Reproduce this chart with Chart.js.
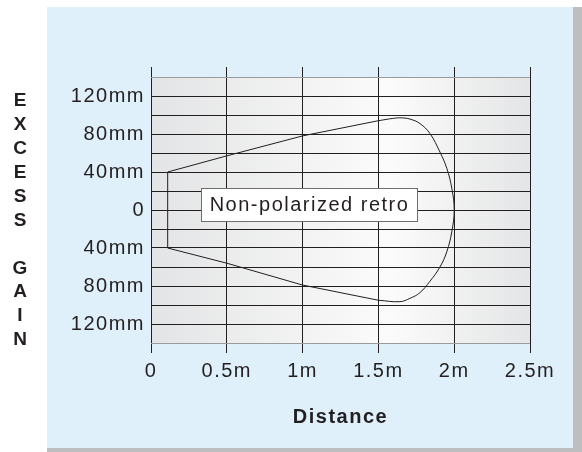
<!DOCTYPE html>
<html>
<head>
<meta charset="utf-8">
<script src="https://cdn.jsdelivr.net/npm/chart.js@4/dist/chart.umd.min.js"></script>
<style>
    html, body { margin: 0; padding: 0; background: #fff; }
</style>
</head>
<body>
<canvas id="myChart1" width="582" height="452"></canvas>
<script>
// Beam outline (distance in m, excess gain in mm)
// straight sides of the outline
const sideDistance = [1.5, 1.0, 0.5, 0.11, 0.11, 0.5, 1.0, 1.5];
const sideGain = [-95, -79, -56, -40, 40, 57, 78, 94];
// rounded far end
const capDistance = [1.5, 1.6, 1.654, 1.708, 1.774, 1.84, 1.906, 1.951, 1.984, 2.0,
                     1.984, 1.951, 1.906, 1.84, 1.774, 1.708, 1.642, 1.5];
const capGain = [94, 96.5, 97, 95.7, 91, 80.5, 61, 44, 23, 0,
                 -23, -44, -60, -75, -87, -93, -96.5, -95];

const xTicks = [0, 0.5, 1, 1.5, 2, 2.5];
const xTickLabels = ['0', '0.5m', '1m', '1.5m', '2m', '2.5m'];
const yTickLabels = { 120: '120mm', 80: '80mm', 40: '40mm', 0: '0', '-40': '40mm', '-80': '80mm', '-120': '120mm' };

const seriesLabel = 'Non-polarized retro';
const seriesLabelAt = { x: 1.039, y: 6 };
const yTitleLetters = ['E', 'X', 'C', 'E', 'S', 'S', '', 'G', 'A', 'I', 'N'];

const ink = '#231f20';
Chart.defaults.font.family = "'Liberation Sans', Arial, Helvetica, sans-serif";
Chart.defaults.color = ink;

// panel, shadow and grey gradient behind the grid
const backdrop = {
    id: 'backdrop',
    beforeDraw(chart) {
        const ctx = chart.ctx;
        const a = chart.chartArea;
        ctx.save();
        ctx.fillStyle = '#ffffff';
        ctx.fillRect(0, 0, chart.width, chart.height);
        ctx.fillStyle = '#bcbec0';
        ctx.fillRect(47, 7, chart.width - 47, chart.height - 7);
        ctx.fillStyle = '#dff0fa';
        ctx.fillRect(47, 7, 526, 441);
        const g = ctx.createLinearGradient(a.left, 0, a.right, 0);
        g.addColorStop(0, '#e3e4e5');
        g.addColorStop(0.63, '#fbfbfb');
        g.addColorStop(1, '#e4e5e6');
        ctx.fillStyle = g;
        ctx.fillRect(a.left, a.top, a.right - a.left, a.bottom - a.top);
        ctx.restore();
        ctx.letterSpacing = '1.5px';
    }
};

// boxed series label and the stacked y title
const labels = {
    id: 'labels',
    afterDatasetsDraw(chart) {
        const ctx = chart.ctx;
        const cx = chart.scales.x.getPixelForValue(seriesLabelAt.x);
        const cy = chart.scales.y.getPixelForValue(seriesLabelAt.y);
        ctx.save();
        ctx.letterSpacing = '1.5px';
        ctx.font = "20px 'Liberation Sans', Arial, sans-serif";
        const w = ctx.measureText(seriesLabel).width;
        ctx.fillStyle = '#ffffff';
        ctx.strokeStyle = '#6d6e70';
        ctx.lineWidth = 1;
        const bx = Math.round(cx - w / 2 - 8) + 0.5;
        const by = Math.round(cy - 16.5) + 0.5;
        ctx.fillRect(bx, by, Math.round(w + 16), 33);
        ctx.strokeRect(bx, by, Math.round(w + 16), 33);
        ctx.fillStyle = ink;
        ctx.textAlign = 'center';
        ctx.textBaseline = 'middle';
        ctx.fillText(seriesLabel, cx + 1, cy + 1);

        ctx.letterSpacing = '0px';
        ctx.font = "bold 19px 'Liberation Sans', Arial, sans-serif";
        yTitleLetters.forEach((ch, i) => {
            ctx.fillText(ch, 20, 101 + i * 23.9);
        });
        ctx.restore();
    }
};

const sidePoints = sideDistance.map((d, i) => ({ x: d, y: sideGain[i] }));
const capPoints = capDistance.map((d, i) => ({ x: d, y: capGain[i] }));

const myChart1 = new Chart(document.getElementById('myChart1').getContext('2d'), {
    type: 'line',
    data: {
        datasets: [{
            label: seriesLabel,
            data: sidePoints,
            borderColor: ink,
            borderWidth: 1,
            pointRadius: 0,
            tension: 0,
            fill: false
        }, {
            label: seriesLabel,
            data: capPoints,
            borderColor: ink,
            borderWidth: 1,
            pointRadius: 0,
            tension: 0.4,
            fill: false
        }]
    },
    options: {
        responsive: false,
        animation: false,
        devicePixelRatio: 1,
        layout: { padding: { left: 51, right: 52, top: 67, bottom: 9 } },
        plugins: {
            legend: { display: false },
            tooltip: { enabled: false }
        },
        scales: {
            x: {
                type: 'linear',
                position: 'bottom',
                min: 0,
                max: 2.5,
                afterBuildTicks: s => { s.ticks = xTicks.map(v => ({ value: v })); },
                afterFit: s => { s.height = 100; },
                border: { display: false },
                grid: { color: ink, lineWidth: 1, tickLength: 10 },
                ticks: {
                    padding: 6,
                    font: { size: 20 },
                    color: ink,
                    maxRotation: 0,
                    callback: (v, i) => xTickLabels[i]
                },
                title: {
                    display: true,
                    text: 'Distance',
                    font: { size: 20, weight: 'bold' },
                    color: ink,
                    padding: { top: 0, bottom: 14 }
                }
            },
            xTop: {
                type: 'linear',
                position: 'top',
                min: 0,
                max: 2.5,
                afterBuildTicks: s => { s.ticks = xTicks.map(v => ({ value: v })); },
                afterFit: s => { s.height = 10; },
                border: { display: false },
                grid: { color: ink, lineWidth: 1, tickLength: 10, drawOnChartArea: false },
                ticks: { display: false }
            },
            y: {
                type: 'linear',
                min: -140,
                max: 140,
                afterFit: s => { s.width = 100; },
                border: { display: false },
                grid: {
                    drawTicks: false,
                    lineWidth: 1,
                    color: c => (Math.abs(c.tick.value) === 140 ? '#9a9b9c' : ink)
                },
                ticks: {
                    stepSize: 20,
                    autoSkip: false,
                    padding: 6,
                    font: { size: 20 },
                    color: ink,
                    callback: v => (yTickLabels[v] !== undefined ? yTickLabels[v] : '')
                }
            }
        }
    },
    plugins: [backdrop, labels]
});
</script>
</body>
</html>
